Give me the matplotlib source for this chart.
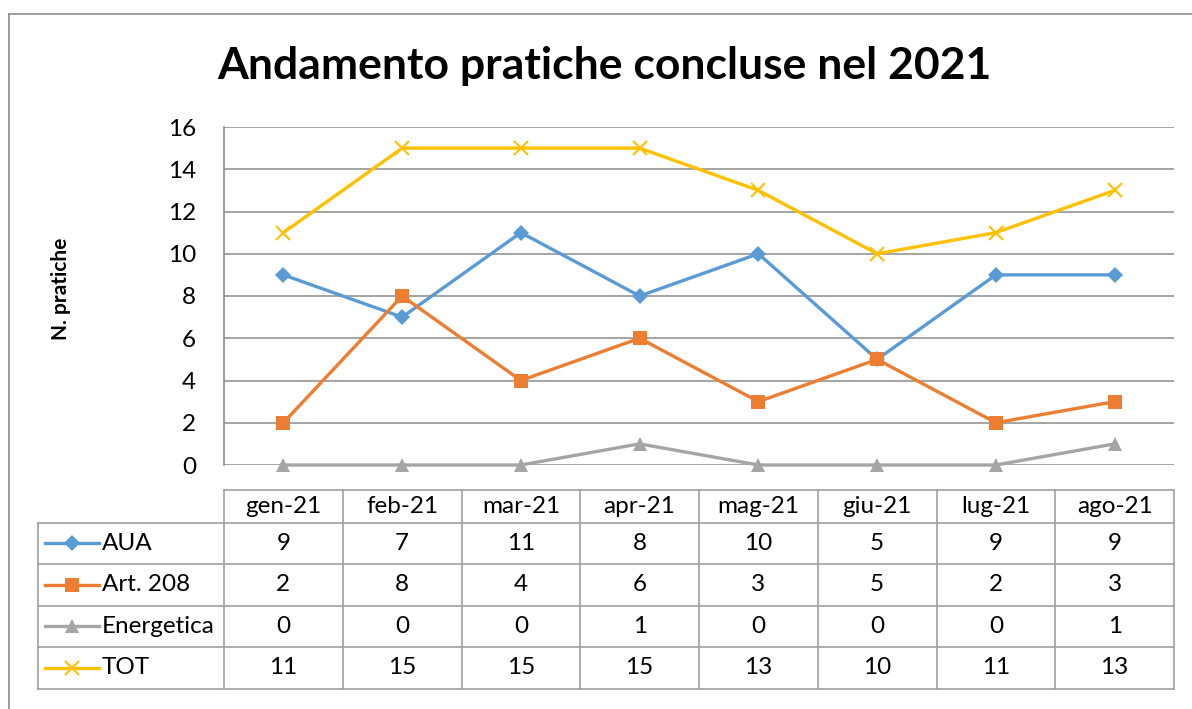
import matplotlib
matplotlib.use("Agg")
import matplotlib.pyplot as plt
from matplotlib.lines import Line2D

plt.rcParams['font.family'] = ['Lato', 'DejaVu Sans']

months = ["gen-21", "feb-21", "mar-21", "apr-21", "mag-21", "giu-21", "lug-21", "ago-21"]
series_names = ["AUA", "Art. 208", "Energetica", "TOT"]
aua = [9, 7, 11, 8, 10, 5, 9, 9]
art208 = [2, 8, 4, 6, 3, 5, 2, 3]
energetica = [0, 0, 0, 1, 0, 0, 0, 1]
tot = [11, 15, 15, 15, 13, 10, 11, 13]
yticks = [0, 2, 4, 6, 8, 10, 12, 14, 16]
title = "Andamento pratiche concluse nel 2021"
ylabel = "N. pratiche"

series = [aua, art208, energetica, tot]
colors = ["#5B9BD5", "#ED7D31", "#A5A5A5", "#FFC000"]
markers = ["D", "s", "^", "x"]
msizes = [8, 10, 9.5, 10]

W, H = 1192, 709
fig = plt.figure(figsize=(W / 100, H / 100), dpi=100)
fig.patch.set_facecolor("white")

# outer frame (left and top edges visible)
fig.add_artist(Line2D([9 / W, 9 / W], [0, 1 - 14 / H], color="#8C8C8C", lw=1.2))
fig.add_artist(Line2D([9 / W, 1], [1 - 14 / H, 1 - 14 / H], color="#8C8C8C", lw=1.2))

fig.text(604 / W, 1 - 66 / H, title, ha="center", va="center",
         fontsize=32, fontweight="bold", color="black")

FS = 17.5
ax = fig.add_axes([224 / W, 1 - 465 / H, 950 / W, (465 - 127) / H])
n = len(months)
x = list(range(n))
ax.set_xlim(-0.5, n - 0.5)
ax.set_ylim(0, 16)
ax.set_yticks(yticks)
ax.set_yticklabels([str(v) for v in yticks], fontsize=FS)
ax.set_xticks([])
ax.tick_params(axis="y", length=0, pad=20)
for s in ["top", "right", "bottom"]:
    ax.spines[s].set_visible(False)
ax.spines["left"].set_color("#8C8C8C")
ax.spines["left"].set_linewidth(1.2)
ax.grid(axis="y", color="#8C8C8C", lw=1.1)
ax.set_axisbelow(True)
ax.set_ylabel(ylabel, fontsize=15, fontweight="bold", labelpad=62)
ax.yaxis.set_label_coords(-153 / 950, 0.52)

for vals, c, m, ms in zip(series, colors, markers, msizes):
    kw = dict(markeredgewidth=1.5) if m == "x" else dict(markeredgewidth=0)
    ax.plot(x, vals, color=c, lw=2.4, marker=m, markersize=ms, clip_on=False, zorder=3, **kw)

# data table
tax = fig.add_axes([224 / W, 1 - 688.5 / H, 950 / W, (688.5 - 490) / H])
tax.set_xlim(-0.5, n - 0.5)
tot_h = 688.5 - 490
tax.set_ylim(tot_h, 0)
tax.axis("off")
col_w = 950 / n


def px2x(px):
    return (px - 224) / col_w - 0.5


xleft = px2x(38)
head_h = 32.7
row_h = (tot_h - head_h) / len(series)
gc = "#A0A0A0"
lw = 1.2
tax.plot([-0.5, n - 0.5], [0, 0], color=gc, lw=lw, clip_on=False)
for i in range(len(series) + 1):
    yy = head_h + i * row_h
    tax.plot([xleft, n - 0.5], [yy, yy], color=gc, lw=lw, clip_on=False)
for j in range(n + 1):
    tax.plot([j - 0.5, j - 0.5], [0, tot_h], color=gc, lw=lw, clip_on=False)
tax.plot([xleft, xleft], [head_h, tot_h], color=gc, lw=lw, clip_on=False)

for j, mth in enumerate(months):
    tax.text(j, head_h / 2, mth, ha="center", va="center", fontsize=FS)
for i, (name, vals, c, m, ms) in enumerate(zip(series_names, series, colors, markers, msizes)):
    yc = head_h + (i + 0.5) * row_h
    tax.plot([px2x(45), px2x(99)], [yc, yc], color=c, lw=2.4, clip_on=False)
    kw = dict(markeredgewidth=1.5) if m == "x" else dict(markeredgewidth=0)
    tax.plot([px2x(72)], [yc], color=c, marker=m, markersize=ms, clip_on=False, **kw)
    tax.text(px2x(102), yc, name, ha="left", va="center", fontsize=FS)
    for j, v in enumerate(vals):
        tax.text(j, yc, str(v), ha="center", va="center", fontsize=FS)

fig.savefig("out.png", dpi=100)
